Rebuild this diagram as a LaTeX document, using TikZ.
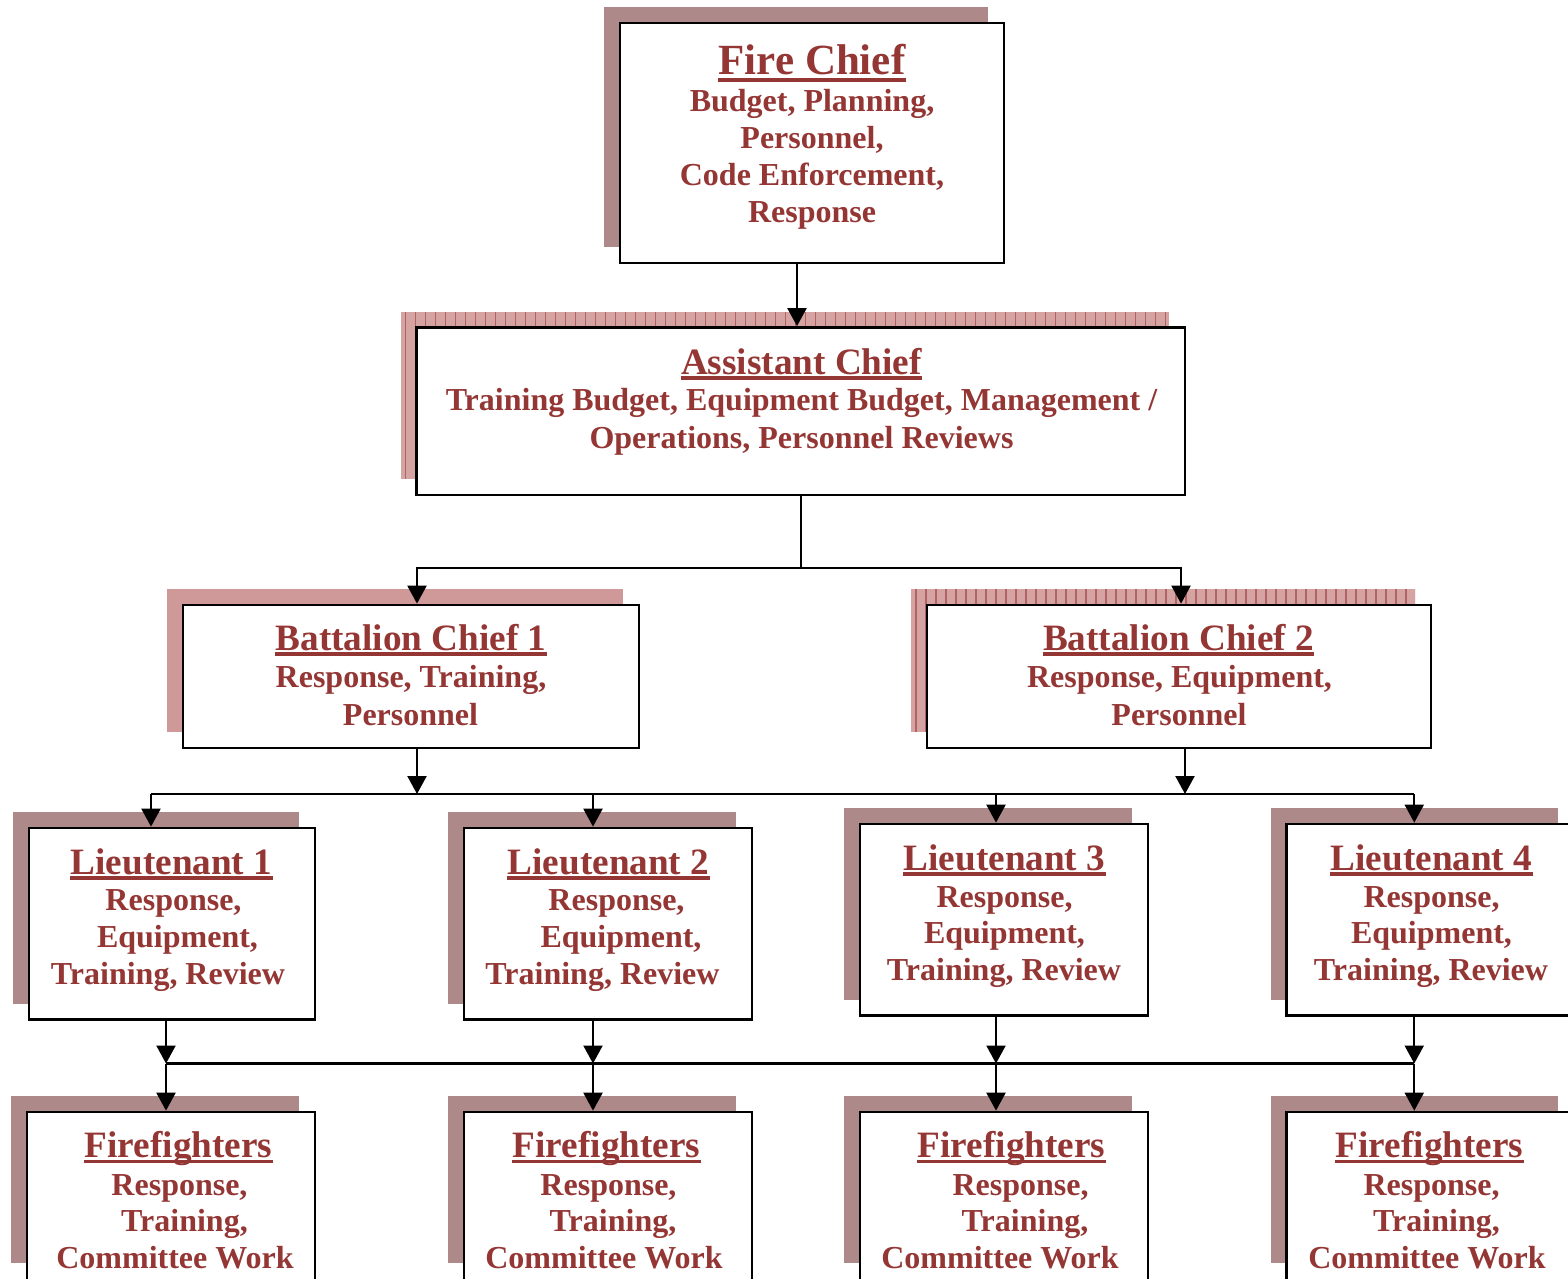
\documentclass[tikz,border=0pt]{standalone}
\usepackage{fontspec}
\setmainfont{Liberation Serif}
\usetikzlibrary{arrows.meta,fit}
\definecolor{txtred}{HTML}{943634}
\definecolor{shbrown}{HTML}{AD8989}
\definecolor{shpink}{HTML}{CF9999}
\definecolor{shhatch}{HTML}{D6A3A3}
\definecolor{hatchln}{HTML}{B06464}
\tikzset{
  orgbox/.style={draw=black, fill=white, line width=1.35pt, inner sep=0pt},
  conn/.style={draw=black, line width=1.1pt},
  arr/.style={conn, -{Triangle[width=9.5pt,length=9pt]}},
  ttlfont/.style={font=\fontsize{18.6}{20}\selectfont\bfseries, text=txtred, inner sep=0pt},
  bigttl/.style={font=\fontsize{21.5}{24}\selectfont\bfseries, text=txtred, inner sep=0pt},
  bodyfont/.style={font=\fontsize{16}{18}\selectfont\bfseries, text=txtred, inner sep=0pt},
  ul/.style={draw=txtred, line width=1.75pt},
}
\newcommand\orgShadow[5]{\fill[#1] (#2-16,#3-16) rectangle (#4-16,#5-16);}
\newcommand\orgHatch[4]{%
  \begin{scope}
    \clip (#1-16,#2-16) rectangle (#3-16,#4-16);
    \fill[shhatch] (#1-16,#2-16) rectangle (#3-16,#4-16);
    \foreach \hi in {0,...,80}{\draw[hatchln, line width=0.6pt] (#1-11+10*\hi,#2-16) -- (#1-11+10*\hi,#4-16);}
  \end{scope}}
\newcommand\orgTitle[6]{%
  \node[#1, anchor=base] (#2) at (#3,#4) {#5};
  \draw[ul] ([yshift=-#6]#2.base west) -- ([yshift=-#6]#2.base east);}
\newcommand\orgLine[4]{\node[bodyfont, anchor=base] (#1) at (#2,#3) {#4};}
\begin{document}
\begin{tikzpicture}[x=0.5pt,y=-0.5pt]
\useasboundingbox (0,0) rectangle (1568,1279);
\clip (0,0) rectangle (1568,1279);
% ---- shadows
\orgShadow{shbrown}{620}{23}{1004}{263}
\orgHatch{416.5}{327.5}{1185}{495}
\orgShadow{shpink}{183}{605}{639}{748}
\orgHatch{927}{605}{1431}{748}
\orgShadow{shbrown}{29}{828}{315}{1019.5}
\orgShadow{shbrown}{464}{828}{752}{1019.5}
\orgShadow{shbrown}{860}{824}{1148}{1015.5}
\orgShadow{shbrown}{1286.5}{824}{1574}{1015.5}
\orgShadow{shbrown}{27}{1112}{315}{1279}
\orgShadow{shbrown}{464}{1112}{752}{1279}
\orgShadow{shbrown}{860}{1112}{1148}{1279}
\orgShadow{shbrown}{1286.5}{1112}{1574}{1279}
% ---- boxes
\node[orgbox, fit={(620,23)(1004,263)}] (fc) {};
\node[orgbox, fit={(416.5,327.5)(1185,495)}] (ac) {};
\node[orgbox, fit={(183,605)(639,748)}] (bc1) {};
\node[orgbox, fit={(927,605)(1431,748)}] (bc2) {};
\node[orgbox, fit={(29,828)(315,1019.5)}] (lt1) {};
\node[orgbox, fit={(464,828)(752,1019.5)}] (lt2) {};
\node[orgbox, fit={(860,824)(1148,1015.5)}] (lt3) {};
\node[orgbox, fit={(1286.5,824)(1574,1015.5)}] (lt4) {};
\node[orgbox, fit={(27,1112)(315,1295)}] (ff1) {};
\node[orgbox, fit={(464,1112)(752,1295)}] (ff2) {};
\node[orgbox, fit={(860,1112)(1148,1295)}] (ff3) {};
\node[orgbox, fit={(1286.5,1112)(1574,1295)}] (ff4) {};
% ---- connectors
\draw[arr] ([xshift=-7.5pt]fc.south) -- ([xshift=-7.5pt]fc.south |- ac.north);
\coordinate (busA) at (801,568);
\draw[conn] (ac.south) -- (ac.south |- busA);
\draw[arr] (ac.south |- busA) -| ([xshift=3pt]bc1.north);
\draw[arr] (ac.south |- busA) -| ([xshift=1pt]bc2.north);
\coordinate (busB) at (800,794);
\coordinate (dt1) at ([xshift=-10.5pt]lt1.north);
\coordinate (dt2) at ([xshift=-7.5pt]lt2.north);
\coordinate (dt3) at ([xshift=-4pt]lt3.north);
\coordinate (dt4) at ([xshift=-8pt]lt4.north);
\draw[conn] (dt1 |- busB) -- (dt4 |- busB);
\draw[arr] ([xshift=3pt]bc1.south) -- ([xshift=3pt]bc1.south |- busB);
\draw[arr] ([xshift=3pt]bc2.south) -- ([xshift=3pt]bc2.south |- busB);
\foreach \k in {1,2,3,4}{\draw[arr] (dt\k |- busB) -- (dt\k);}
\coordinate (busC) at (800,1063.5);
\coordinate (db1) at ([xshift=-3pt]lt1.south);
\coordinate (db2) at ([xshift=-7.5pt]lt2.south);
\coordinate (db3) at ([xshift=-4pt]lt3.south);
\coordinate (db4) at ([xshift=-8pt]lt4.south);
\draw[conn] (db1 |- busC) -- (db4 |- busC);
\foreach \k in {1,2,3,4}{
  \draw[arr] (db\k) -- (db\k |- busC);
  \draw[arr] (db\k |- busC) -- (db\k |- ff\k.north);
}
% ---- texts
\orgTitle{bigttl}{fcT}{812}{75}{Fire Chief}{2.5pt}
\orgLine{fcA}{812}{111.5}{Budget, Planning,}
\orgLine{fcB}{812}{148.5}{Personnel,}
\orgLine{fcC}{812}{185.5}{Code Enforcement,}
\orgLine{fcD}{812}{222.5}{Response}
\orgTitle{ttlfont}{acT}{801.5}{374}{Assistant Chief}{2pt}
\orgLine{acA}{801.5}{410}{Training Budget, Equipment Budget, Management /}
\orgLine{acB}{801.5}{448}{Operations, Personnel Reviews}
\orgTitle{ttlfont}{b1T}{411}{650}{Battalion Chief 1}{2pt}
\orgLine{b1A}{411}{687.5}{Response, Training,}
\orgLine{b1B}{410.5}{725}{Personnel}
\orgTitle{ttlfont}{b2T}{1178.5}{650}{Battalion Chief 2}{2pt}
\orgLine{b2A}{1179.5}{687.5}{Response, Equipment,}
\orgLine{b2B}{1179}{725}{Personnel}
\orgTitle{ttlfont}{l1T}{171.5}{874}{Lieutenant 1}{2pt}
\orgLine{l1A}{173.5}{910.5}{Response,}
\orgLine{l1B}{177.5}{947.5}{Equipment,}
\orgLine{l1C}{168}{984}{Training, Review}
\orgTitle{ttlfont}{l2T}{608.5}{874}{Lieutenant 2}{2pt}
\orgLine{l2A}{616.5}{910.5}{Response,}
\orgLine{l2B}{621}{947.5}{Equipment,}
\orgLine{l2C}{602.5}{984}{Training, Review}
\orgTitle{ttlfont}{l3T}{1004.5}{870}{Lieutenant 3}{2pt}
\orgLine{l3A}{1004.5}{907}{Response,}
\orgLine{l3B}{1004.5}{943.5}{Equipment,}
\orgLine{l3C}{1004}{980}{Training, Review}
\orgTitle{ttlfont}{l4T}{1431.5}{870}{Lieutenant 4}{2pt}
\orgLine{l4A}{1431.5}{907}{Response,}
\orgLine{l4B}{1431.5}{943.5}{Equipment,}
\orgLine{l4C}{1431}{980}{Training, Review}
\orgTitle{ttlfont}{f1T}{178.5}{1157.5}{Firefighters}{2pt}
\orgLine{f1A}{179.5}{1195}{Response,}
\orgLine{f1B}{184.5}{1231.5}{Training,}
\orgLine{f1C}{175}{1268}{Committee Work}
\orgTitle{ttlfont}{f2T}{606.5}{1157.5}{Firefighters}{2pt}
\orgLine{f2A}{608.5}{1195}{Response,}
\orgLine{f2B}{613}{1231.5}{Training,}
\orgLine{f2C}{604}{1268}{Committee Work}
\orgTitle{ttlfont}{f3T}{1011.5}{1157.5}{Firefighters}{2pt}
\orgLine{f3A}{1020.5}{1195}{Response,}
\orgLine{f3B}{1025}{1231.5}{Training,}
\orgLine{f3C}{1000}{1268}{Committee Work}
\orgTitle{ttlfont}{f4T}{1429.5}{1157.5}{Firefighters}{2pt}
\orgLine{f4A}{1431.5}{1195}{Response,}
\orgLine{f4B}{1436.5}{1231.5}{Training,}
\orgLine{f4C}{1427}{1268}{Committee Work}
\end{tikzpicture}
\end{document}
